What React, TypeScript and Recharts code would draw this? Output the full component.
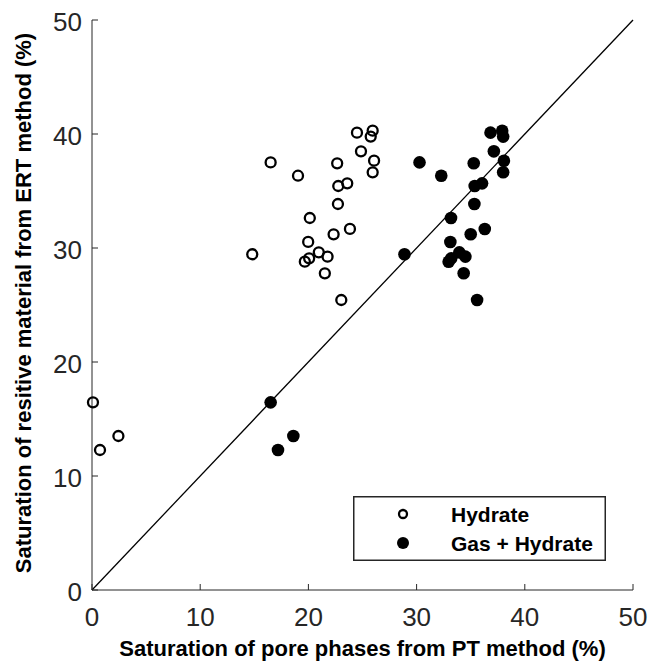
import { ScatterChart, Scatter, XAxis, YAxis, Legend } from "recharts";

// ERT saturation (y) shared by each pair of points
const ertSaturation = [
  16.46, 12.28, 13.51, 29.45, 37.51, 36.34, 37.43, 40.12, 38.48, 40.29, 39.77, 37.66, 36.64,
  35.44, 35.67, 33.86, 32.63, 31.2, 31.67, 30.53, 29.62, 29.24, 29.09, 28.8, 27.78, 25.44,
];
// PT saturation considering hydrate only
const hydrateSaturation = [
  0.09, 0.74, 2.44, 14.81, 16.51, 19.04, 22.66, 24.49, 24.86, 25.94, 25.76, 26.07, 25.94,
  22.76, 23.59, 22.73, 20.13, 22.33, 23.84, 19.98, 20.96, 21.77, 20.07, 19.67, 21.52, 23.04,
];
// PT saturation considering gas + hydrate
const gasHydrateSaturation = [
  16.51, 17.19, 18.61, 28.88, 30.27, 32.28, 35.28, 36.83, 37.14, 37.91, 38.0, 38.07, 38.0,
  35.37, 36.05, 35.34, 33.18, 35.0, 36.3, 33.12, 33.95, 34.51, 33.2, 32.96, 34.35, 35.59,
];
const oneToOne = [0, 50];
const axisTicks = [0, 10, 20, 30, 40, 50];
const seriesNames = ["Hydrate", "Gas + Hydrate"];

const hydrateData = ertSaturation.map((ert, i) => ({ pt: hydrateSaturation[i], ert }));
const gasData = ertSaturation.map((ert, i) => ({ pt: gasHydrateSaturation[i], ert }));
const diagData = oneToOne.map((v) => ({ pt: v, ert: v }));

const FONT = "'Liberation Sans', Arial, Helvetica, sans-serif";
const AXIS = "#262626";

const OpenDot = (p: any) => (
  <circle cx={p.cx} cy={p.cy} r={5} fill="none" stroke="#000" strokeWidth={2.3} />
);
const FilledDot = (p: any) => <circle cx={p.cx} cy={p.cy} r={6.3} fill="#000" />;

const BottomTick = ({ x, y, payload }: any) => (
  <g>
    <line x1={x} y1={y} x2={x} y2={y - 6} stroke={AXIS} />
    <text x={x} y={y + 36} textAnchor="middle" fontSize={26} fill={AXIS} fontFamily={FONT}>
      {payload.value}
    </text>
  </g>
);
const LeftTick = ({ x, y, payload }: any) => (
  <g>
    <line x1={x} y1={y} x2={x + 6} y2={y} stroke={AXIS} />
    <text x={x - 10} y={y + 11} textAnchor="end" fontSize={26} fill={AXIS} fontFamily={FONT}>
      {payload.value}
    </text>
  </g>
);
const TopTick = ({ x, y }: any) => <line x1={x} y1={y} x2={x} y2={y + 6} stroke={AXIS} />;
const RightTick = ({ x, y }: any) => <line x1={x} y1={y} x2={x - 6} y2={y} stroke={AXIS} />;

const LegendBox = ({ payload }: any) => {
  const items = seriesNames.filter((n) => (payload || []).some((e: any) => e.value === n));
  return (
    <svg width={253} height={65} style={{ display: "block" }}>
      <rect x={0.75} y={0.75} width={251.5} height={63.5} fill="#fff" stroke={AXIS} strokeWidth={1.5} />
      {items.map((name, i) => (
        <g key={name}>
          {name === "Hydrate" ? (
            <circle cx={50} cy={18 + i * 29} r={4} fill="none" stroke="#000" strokeWidth={2.3} />
          ) : (
            <circle cx={50} cy={18 + i * 29} r={6} fill="#000" />
          )}
          <text x={98} y={18 + i * 29 + 7.5} fontSize={21} fontWeight="bold" fontFamily={FONT} fill="#000">
            {name}
          </text>
        </g>
      ))}
    </svg>
  );
};

export default function App() {
  return (
    <div style={{ position: "absolute", left: 0, top: 0, background: "#fff" }}>
      <ScatterChart width={652} height={666} margin={{ top: 20, right: 19, bottom: 0, left: 0 }}>
        <XAxis
          xAxisId="b"
          type="number"
          dataKey="pt"
          domain={[0, 50]}
          ticks={axisTicks}
          tickSize={0}
          tickMargin={0}
          height={76}
          stroke={AXIS}
          tickLine={false}
          tick={<BottomTick />}
          label={{
            value: "Saturation of pore phases from PT method (%)",
            position: "center",
            dy: 20,
            fontSize: 22,
            fontWeight: "bold",
            fill: "#000",
            fontFamily: FONT,
          }}
        />
        <XAxis
          xAxisId="t"
          orientation="top"
          type="number"
          dataKey="pt"
          domain={[0, 50]}
          ticks={axisTicks}
          tickSize={0}
          tickMargin={0}
          height={0}
          stroke={AXIS}
          tickLine={false}
          tick={<TopTick />}
        />
        <YAxis
          yAxisId="l"
          type="number"
          dataKey="ert"
          domain={[0, 50]}
          ticks={axisTicks}
          tickSize={0}
          tickMargin={0}
          width={92}
          stroke={AXIS}
          tickLine={false}
          tick={<LeftTick />}
          label={{
            value: "Saturation of resitive material from ERT method (%)",
            angle: -90,
            position: "center",
            dx: -23,
            dy: -2,
            fontSize: 22,
            fontWeight: "bold",
            fill: "#000",
            fontFamily: FONT,
          }}
        />
        <YAxis
          yAxisId="r"
          orientation="right"
          type="number"
          dataKey="ert"
          domain={[0, 50]}
          ticks={axisTicks}
          tickSize={0}
          tickMargin={0}
          width={0}
          stroke={AXIS}
          tickLine={false}
          tick={<RightTick />}
        />
        <Scatter
          name="1:1"
          data={diagData}
          xAxisId="t"
          yAxisId="r"
          line={{ stroke: "#000", strokeWidth: 1.3 }}
          shape={() => <g />}
          legendType="none"
          isAnimationActive={false}
        />
        <Scatter
          name={seriesNames[0]}
          data={hydrateData}
          xAxisId="b"
          yAxisId="l"
          shape={OpenDot}
          isAnimationActive={false}
        />
        <Scatter
          name={seriesNames[1]}
          data={gasData}
          xAxisId="b"
          yAxisId="l"
          shape={FilledDot}
          isAnimationActive={false}
        />
        <Legend
          layout="horizontal"
          verticalAlign="middle"
          align="center"
          wrapperStyle={{ left: 353, top: 496, width: 253, height: 65 }}
          content={<LegendBox />}
        />
      </ScatterChart>
    </div>
  );
}
